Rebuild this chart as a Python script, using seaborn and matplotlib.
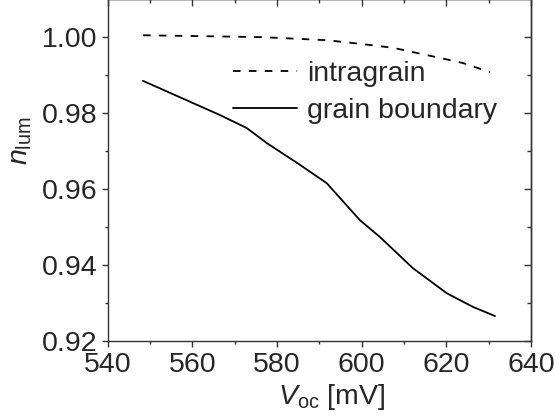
import seaborn as sns
import matplotlib.pyplot as plt
import pandas as pd

# data
voc_intra = [548.3, 560, 576.6, 591.7, 600, 607.4, 617.8, 623.9, 630.3]
n_intra = [1.0005, 1.0003, 1.0000, 0.9992, 0.9982, 0.9972, 0.9947, 0.9932, 0.9908]

voc_gb = [548.3, 557, 566.5, 572.8, 577.6, 585, 591.7, 599.6, 604.3, 612.1, 620.1, 626.3, 631.5]
n_gb = [0.9885, 0.9842, 0.9795, 0.9761, 0.9721, 0.9667, 0.9616, 0.9518, 0.9474, 0.9392, 0.9326, 0.9290, 0.9266]

x_ticks = [540, 560, 580, 600, 620, 640]
y_ticks = [0.92, 0.94, 0.96, 0.98, 1.00]

df = pd.concat([
    pd.DataFrame({'Voc': voc_intra, 'n': n_intra, 'kind': 'intragrain'}),
    pd.DataFrame({'Voc': voc_gb, 'n': n_gb, 'kind': 'grain boundary'}),
])

sns.set_style('ticks')
plt.rcParams['font.family'] = ['Liberation Sans', 'DejaVu Sans']
plt.rcParams['mathtext.fontset'] = 'custom'
plt.rcParams['mathtext.rm'] = 'Liberation Sans'
plt.rcParams['mathtext.it'] = 'Liberation Sans:italic'
fs = 20.5

fig = plt.figure(figsize=(5.56, 4.16), dpi=100)
ax = fig.add_axes([0.194, 0.180, 0.761, 0.822])

sns.lineplot(data=df, x='Voc', y='n', hue='kind', style='kind',
             palette=['black', 'black'], dashes=[(4.2, 4.6), ''],
             linewidth=1.3, sort=False, ax=ax)

ax.set_xlim(540, 640)
ax.set_ylim(0.92, 1.01)
ax.set_xticks(x_ticks)
ax.set_yticks(y_ticks)
ax.set_xticks(range(550, 640, 20), minor=True)
ax.set_yticks([0.93, 0.95, 0.97, 0.99], minor=True)
ax.set_yticklabels([f'{v:.2f}' for v in y_ticks])

for s in ax.spines.values():
    s.set_visible(True)
    s.set_linewidth(1.0)
    s.set_color('#333333')

ax.tick_params(which='both', direction='out', width=1.0, color='#333333',
               labelsize=fs, pad=3)
ax.tick_params(which='major', length=4.5)
ax.tick_params(which='minor', length=2.5)

# mirrored top / right axes with inward ticks
top = ax.secondary_xaxis('top')
top.set_xticks(x_ticks)
top.set_xticks(range(550, 640, 20), minor=True)
right = ax.secondary_yaxis('right')
right.set_yticks(y_ticks)
right.set_yticks([0.93, 0.95, 0.97, 0.99], minor=True)
for sec in (top, right):
    sec.tick_params(which='both', direction='in', width=1.0, color='#333333',
                    labeltop=False, labelright=False, labelbottom=False, labelleft=False)
    sec.tick_params(which='major', length=5)
    sec.tick_params(which='minor', length=3)
    for s in sec.spines.values():
        s.set_linewidth(1.0)
        s.set_color('#333333')

ax.set_xlabel(r'$V_{\mathrm{oc}}$ [mV]', fontsize=fs)
ax.set_ylabel(r'$n_{\mathrm{lum}}$', fontsize=fs)
ax.xaxis.set_label_coords(0.53, -0.12)
ax.yaxis.set_label_coords(-0.175, 0.585)

handles, labels = ax.get_legend_handles_labels()
ax.legend(handles, labels, loc='upper left', bbox_to_anchor=(0.296, 0.82),
          frameon=False, fontsize=fs, handlelength=2.25, handletextpad=0.35,
          labelspacing=0.4, borderpad=0, borderaxespad=0)

fig.savefig('out.png', dpi=100)
